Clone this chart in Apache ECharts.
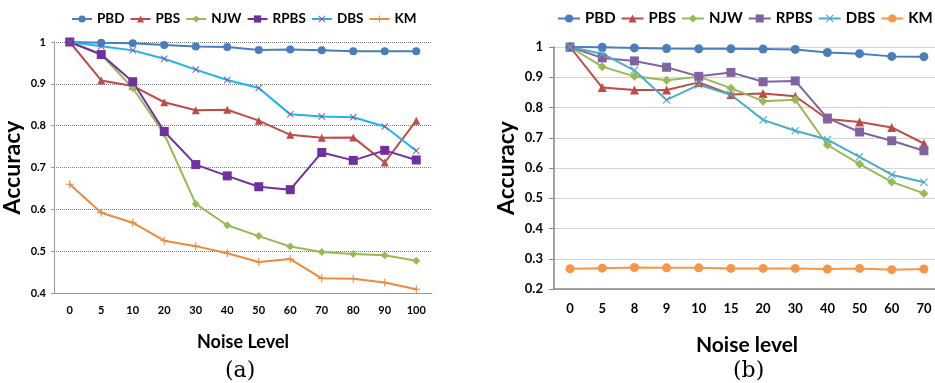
<!DOCTYPE html>
<html>
<head>
<meta charset="utf-8">
<script src="https://cdn.jsdelivr.net/npm/echarts@6/dist/echarts.min.js"></script>
<style>
  html, body { margin: 0; padding: 0; background: #fff; }
  #main { width: 935px; height: 383px; }
</style>
</head>
<body>
<div id="main"></div>
<script>
// chart (a)
var levelsA = ['0', '5', '10', '20', '30', '40', '50', '60', '70', '80', '90', '100'];
var pbdA  = [1, 0.998, 0.997, 0.993, 0.989, 0.988, 0.981, 0.982, 0.980, 0.978, 0.978, 0.978];
var pbsA  = [1, 0.908, 0.895, 0.856, 0.837, 0.838, 0.812, 0.778, 0.771, 0.772, 0.712, 0.812];
var njwA  = [1, 0.970, 0.890, 0.780, 0.613, 0.562, 0.536, 0.511, 0.498, 0.493, 0.490, 0.477];
var rpbsA = [1, 0.970, 0.905, 0.786, 0.707, 0.680, 0.654, 0.647, 0.736, 0.717, 0.741, 0.718];
var dbsA  = [1, 0.990, 0.980, 0.960, 0.934, 0.909, 0.890, 0.827, 0.822, 0.820, 0.798, 0.740];
var kmA   = [0.660, 0.592, 0.568, 0.525, 0.512, 0.495, 0.474, 0.481, 0.435, 0.434, 0.425, 0.409];

// chart (b)
var levelsB = ['0', '5', '8', '9', '10', '15', '20', '30', '40', '50', '60', '70'];
var pbdB  = [1, 0.999, 0.997, 0.995, 0.994, 0.994, 0.993, 0.992, 0.982, 0.978, 0.969, 0.968];
var pbsB  = [1, 0.866, 0.858, 0.858, 0.883, 0.843, 0.846, 0.837, 0.762, 0.752, 0.734, 0.681];
var njwB  = [1, 0.935, 0.903, 0.890, 0.902, 0.864, 0.821, 0.826, 0.676, 0.613, 0.554, 0.516];
var rpbsB = [1, 0.964, 0.954, 0.933, 0.903, 0.916, 0.885, 0.888, 0.765, 0.719, 0.690, 0.657];
var dbsB  = [1, 0.978, 0.923, 0.825, 0.875, 0.842, 0.759, 0.723, 0.694, 0.637, 0.578, 0.553];
var kmB   = [0.267, 0.269, 0.271, 0.270, 0.270, 0.268, 0.268, 0.268, 0.266, 0.268, 0.264, 0.266];

var names = ['PBD', 'PBS', 'NJW', 'RPBS', 'DBS', 'KM'];
// chart (b) series get an invisible suffix so the second legend picks up their own markers
var namesB = names.map(function (n) { return n + '\u200b'; });

var crossSym = 'path://M0,1L1,0L5,4L9,0L10,1L6,5L10,9L9,10L5,6L1,10L0,9L4,5Z';
var plusSym = 'path://M4.3,0H5.7V4.3H10V5.7H5.7V10H4.3V5.7H0V4.3H4.3Z';

var font = 'Lato, "Open Sans", sans-serif';

function line(name, data, idx, lineColor, symColor, symbol, size) {
    return {
        name: name,
        type: 'line',
        xAxisIndex: idx,
        yAxisIndex: idx,
        data: data,
        symbol: symbol,
        symbolSize: size,
        showAllSymbol: true,
        animation: false,
        lineStyle: { color: lineColor, width: 2 },
        itemStyle: { color: symColor }
    };
}

var dom = document.getElementById('main');
var chart = echarts.init(dom);

var option = {
    animation: false,
    legend: [
        {
            data: names,
            left: 66, top: 7,
            itemWidth: 20, itemHeight: 9, itemGap: 5,
            textStyle: { fontFamily: font, fontWeight: 'bold', fontSize: 13.5, color: '#000' },
            selectedMode: false
        },
        {
            data: namesB,
            left: 552, top: 6, width: 420,
            itemWidth: 22, itemHeight: 10, itemGap: 5,
            formatter: function (n) { return n.replace('\u200b', ''); },
            textStyle: { fontFamily: font, fontWeight: 'bold', fontSize: 15, color: '#000' },
            selectedMode: false
        }
    ],
    grid: [
        { left: 54, top: 42, width: 378, height: 251, outerBoundsMode: 'none' },
        { left: 554, top: 47, width: 386, height: 242, outerBoundsMode: 'none' }
    ],
    xAxis: [
        {
            type: 'category', gridIndex: 0, data: levelsA,
            name: 'Noise Level', nameLocation: 'middle', nameGap: 40,
            nameTextStyle: { fontFamily: font, fontWeight: 'bold', fontSize: 18, color: '#000' },
            axisLine: { lineStyle: { color: '#9a9a9a', width: 1 } },
            axisTick: { show: false },
            axisLabel: { fontFamily: font, fontWeight: 'bold', fontSize: 11, color: '#000', margin: 12 }
        },
        {
            type: 'category', gridIndex: 1, data: levelsB,
            name: 'Noise level', nameLocation: 'middle', nameGap: 46,
            nameTextStyle: { fontFamily: font, fontWeight: 'bold', fontSize: 21, color: '#000' },
            axisLine: { lineStyle: { color: '#868686', width: 1.5 } },
            axisTick: { show: false },
            axisLabel: { fontFamily: font, fontWeight: 'bold', fontSize: 13, color: '#000', margin: 13 }
        }
    ],
    yAxis: [
        {
            type: 'value', gridIndex: 0, min: 0.4, max: 1, interval: 0.1,
            name: 'Accuracy', nameLocation: 'middle', nameGap: 30, nameRotate: 90,
            nameTextStyle: { fontFamily: font, fontWeight: 'bold', fontSize: 23, color: '#000' },
            axisLine: { show: true, lineStyle: { color: '#9a9a9a', width: 1 } },
            axisTick: { show: true, length: 3, lineStyle: { color: '#9a9a9a' } },
            splitLine: { lineStyle: { color: '#7a7a7a', type: [1, 1], width: 1 } },
            axisLabel: {
                fontFamily: font, fontWeight: 'bold', fontSize: 11, color: '#000', margin: 8,
                formatter: function (v) { return +v.toFixed(1) + ''; }
            }
        },
        {
            type: 'value', gridIndex: 1, min: 0.2, max: 1, interval: 0.1,
            name: 'Accuracy', nameLocation: 'middle', nameGap: 36, nameRotate: 90,
            nameTextStyle: { fontFamily: font, fontWeight: 'bold', fontSize: 23, color: '#000' },
            axisLine: { show: true, lineStyle: { color: '#868686', width: 1.5 } },
            axisTick: { show: true, length: 5, lineStyle: { color: '#868686' } },
            splitLine: { lineStyle: { color: '#d4d4d4', width: 1 } },
            axisLabel: {
                fontFamily: font, fontWeight: 'bold', fontSize: 13, color: '#000', margin: 11,
                formatter: function (v) { return +v.toFixed(1) + ''; }
            }
        }
    ],
    graphic: [
        { type: 'text', left: 225, top: 360, style: { text: '(a)', font: '22px "DejaVu Serif", serif', fill: '#000' } },
        { type: 'text', left: 733, top: 360, style: { text: '(b)', font: '22px "DejaVu Serif", serif', fill: '#000' } }
    ],
    series: [
        line(names[0], pbdA, 0, '#4a7ebb', '#4a7ebb', 'circle', 8),
        line(names[1], pbsA, 0, '#be4b48', '#be4b48', 'triangle', 8),
        line(names[2], njwA, 0, '#98b954', '#98b954', 'diamond', 8),
        line(names[3], rpbsA, 0, '#7030a0', '#7030a0', 'rect', 9),
        line(names[4], dbsA, 0, '#1cb4ee', '#7d5a9c', crossSym, 7),
        line(names[5], kmA, 0, '#ed8a3d', '#ed8a3d', plusSym, 8),

        line(namesB[0], pbdB, 1, '#4a7ebb', '#4a7ebb', 'circle', 9),
        line(namesB[1], pbsB, 1, '#be4b48', '#be4b48', 'triangle', 9),
        line(namesB[2], njwB, 1, '#98b954', '#98b954', 'diamond', 9),
        line(namesB[3], rpbsB, 1, '#8064a2', '#8064a2', 'rect', 9),
        line(namesB[4], dbsB, 1, '#4bacc6', '#4bacc6', crossSym, 8),
        line(namesB[5], kmB, 1, '#f79646', '#f79646', 'circle', 9)
    ]
};
chart.setOption(option);
</script>
</body>
</html>
